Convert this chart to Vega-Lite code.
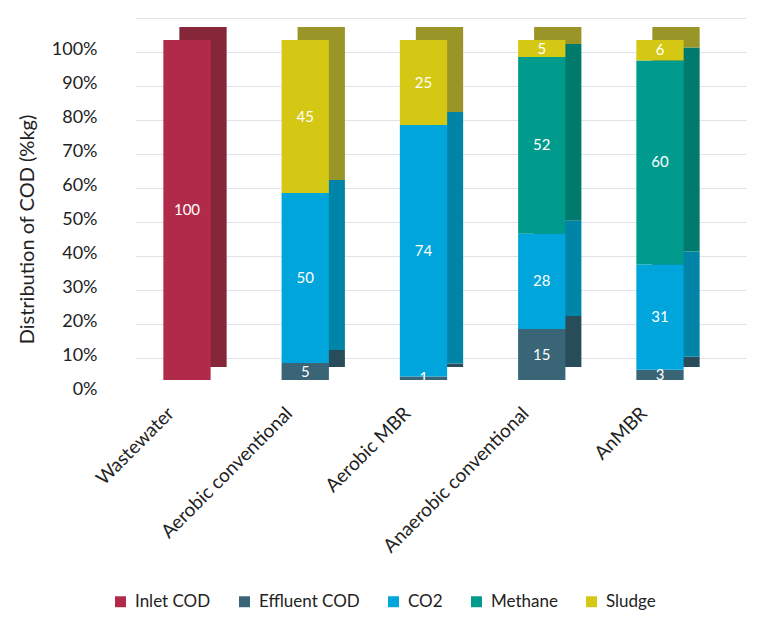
{
  "$schema": "https://vega.github.io/schema/vega-lite/v6.json",
  "width": 611,
  "height": 340,
  "autosize": {"type": "none"},
  "padding": {"left": 157, "top": 40, "right": 0, "bottom": 249},
  "background": "#fff",
  "config": {
    "font": "Lato",
    "view": {"stroke": null},
    "axisY": {
      "tickCount": 10,
      "translate": -21.5,
      "labelOffset": 31,
      "labelOverlap": false,
      "labelFontSize": 18,
      "labelColor": "#222",
      "labelPadding": 38,
      "ticks": false,
      "domain": false,
      "gridColor": "#e2e2ea",
      "titleFontSize": 20,
      "titleFontWeight": "normal",
      "titleColor": "#222",
      "titlePadding": 14,
      "titleY": 211
    }
  },
  "data": {
    "values": [
      {"Process": "Wastewater", "Component": "Inlet COD", "rank": 0, "Value": 100},
      {"Process": "Aerobic conventional", "Component": "Effluent COD", "rank": 1, "Value": 5},
      {"Process": "Aerobic conventional", "Component": "CO2", "rank": 2, "Value": 50},
      {"Process": "Aerobic conventional", "Component": "Sludge", "rank": 4, "Value": 45},
      {"Process": "Aerobic MBR", "Component": "Effluent COD", "rank": 1, "Value": 1},
      {"Process": "Aerobic MBR", "Component": "CO2", "rank": 2, "Value": 74},
      {"Process": "Aerobic MBR", "Component": "Sludge", "rank": 4, "Value": 25},
      {"Process": "Anaerobic conventional", "Component": "Effluent COD", "rank": 1, "Value": 15},
      {"Process": "Anaerobic conventional", "Component": "CO2", "rank": 2, "Value": 28},
      {"Process": "Anaerobic conventional", "Component": "Methane", "rank": 3, "Value": 52},
      {"Process": "Anaerobic conventional", "Component": "Sludge", "rank": 4, "Value": 5},
      {"Process": "AnMBR", "Component": "Effluent COD", "rank": 1, "Value": 3},
      {"Process": "AnMBR", "Component": "CO2", "rank": 2, "Value": 31},
      {"Process": "AnMBR", "Component": "Methane", "rank": 3, "Value": 60},
      {"Process": "AnMBR", "Component": "Sludge", "rank": 4, "Value": 6}
    ]
  },
  "transform": [
    {"stack": "Value", "groupby": ["Process"], "sort": [{"field": "rank"}], "as": ["v0", "v1"]},
    {"calculate": "(datum.v0 + datum.v1) / 2", "as": "mid"}
  ],
  "encoding": {
    "x": {
      "field": "Process",
      "type": "nominal",
      "sort": null,
      "scale": {"paddingInner": 0.6, "paddingOuter": 0.3835, "align": 0.07},
      "axis": {
        "title": null,
        "labelAngle": -45,
        "labelAlign": "right",
        "labelBaseline": "middle",
        "labelFontSize": 19,
        "labelLimit": 400,
        "labelColor": "#222",
        "labelOffset": -16,
        "labelPadding": 30,
        "ticks": false,
        "domain": false
      }
    }
  },
  "layer": [
    {
      "mark": {"type": "bar", "xOffset": 16, "x2Offset": 16, "yOffset": -13, "y2Offset": -13},
      "encoding": {
        "y": {
          "field": "v1",
          "type": "quantitative",
          "scale": {"domain": [0, 100]},
          "axis": {"labelExpr": "datum.value + '%'", "title": "Distribution of COD (%kg)"}
        },
        "y2": {"field": "v0"},
        "color": {
          "field": "Component",
          "type": "nominal",
          "scale": {
            "domain": ["Inlet COD", "Effluent COD", "CO2", "Methane", "Sludge"],
            "range": ["#862739", "#294c5a", "#0085a8", "#007a6c", "#9a9527"]
          },
          "legend": null
        }
      }
    },
    {
      "mark": {"type": "bar"},
      "encoding": {
        "y": {
          "field": "v1",
          "type": "quantitative",
          "axis": {"labelExpr": "datum.value + '%'", "title": "Distribution of COD (%kg)"}
        },
        "y2": {"field": "v0"},
        "color": {
          "field": "Component",
          "type": "nominal",
          "scale": {
            "domain": ["Inlet COD", "Effluent COD", "CO2", "Methane", "Sludge"],
            "range": ["#b22a4a", "#3a6577", "#00a5dc", "#009b8d", "#d5c815"]
          },
          "legend": {
            "title": null,
            "orient": "none",
            "legendX": -45,
            "legendY": 553,
            "direction": "horizontal",
            "symbolType": "square",
            "symbolSize": 120,
            "labelFontSize": 17,
            "labelColor": "#222",
            "labelOffset": 6,
            "columnPadding": 25
          }
        }
      }
    },
    {
      "mark": {"type": "text", "color": "#fff", "fontSize": 15, "baseline": "middle"},
      "encoding": {
        "y": {
          "field": "mid",
          "type": "quantitative",
          "axis": {"labelExpr": "datum.value + '%'", "title": "Distribution of COD (%kg)"}
        },
        "text": {"field": "Value", "type": "quantitative"}
      }
    }
  ],
  "resolve": {"scale": {"color": "independent"}}
}
